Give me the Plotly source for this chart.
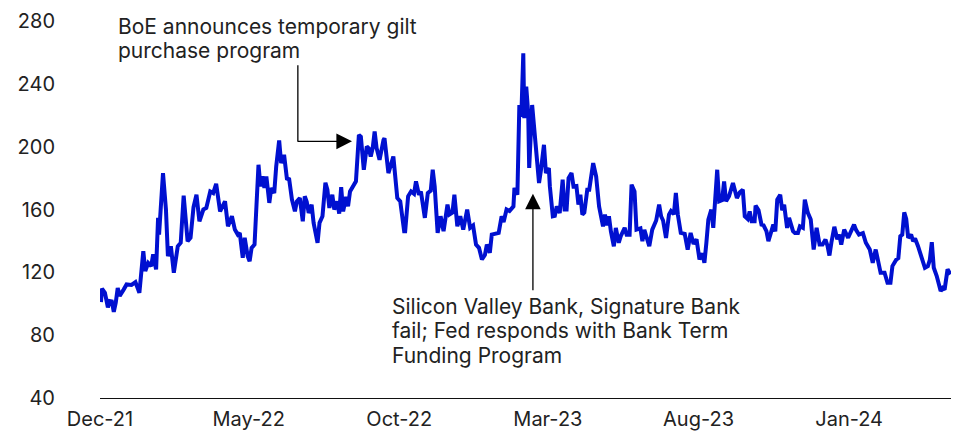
import plotly.graph_objects as go

dates = [
"2021-12-02","2021-12-03","2021-12-06","2021-12-09","2021-12-11","2021-12-13","2021-12-15","2021-12-17","2021-12-19","2021-12-21",
"2021-12-25","2021-12-28","2022-01-02","2022-01-06","2022-01-10","2022-01-14","2022-01-16","2022-01-19","2022-01-22","2022-01-24",
"2022-01-27","2022-01-29","2022-01-30","2022-02-03","2022-02-06","2022-02-08","2022-02-11","2022-02-14","2022-02-18","2022-02-21",
"2022-02-24","2022-02-28","2022-03-03","2022-03-06","2022-03-09","2022-03-12","2022-03-16","2022-03-19","2022-03-23","2022-03-26",
"2022-03-29","2022-04-02","2022-04-07","2022-04-10","2022-04-14","2022-04-17","2022-04-20","2022-04-22","2022-04-25","2022-04-27",
"2022-04-30","2022-05-02","2022-05-04","2022-05-07","2022-05-11","2022-05-13","2022-05-15","2022-05-17","2022-05-19","2022-05-22",
"2022-05-24","2022-05-27","2022-05-29","2022-06-01","2022-06-03","2022-06-06","2022-06-09","2022-06-11","2022-06-14","2022-06-17",
"2022-06-19","2022-06-22","2022-06-25","2022-06-27","2022-06-29","2022-07-01","2022-07-04","2022-07-06","2022-07-10","2022-07-12",
"2022-07-15","2022-07-18","2022-07-20","2022-07-22","2022-07-25","2022-07-27","2022-07-30","2022-08-01","2022-08-03","2022-08-05",
"2022-08-08","2022-08-10","2022-08-12","2022-08-15","2022-08-18","2022-08-21","2022-08-23","2022-08-26","2022-08-29","2022-08-31",
"2022-09-02","2022-09-04","2022-09-06","2022-09-08","2022-09-11","2022-09-15","2022-09-16","2022-09-20","2022-09-25","2022-09-29",
"2022-10-02","2022-10-06","2022-10-07","2022-10-10","2022-10-13","2022-10-16","2022-10-18","2022-10-21","2022-10-23","2022-10-27",
"2022-10-30","2022-11-02","2022-11-04","2022-11-06","2022-11-09","2022-11-12","2022-11-15","2022-11-19","2022-11-21","2022-11-24",
"2022-11-26","2022-11-29","2022-12-02","2022-12-05","2022-12-09","2022-12-12","2022-12-15","2022-12-18","2022-12-21","2022-12-24",
"2022-12-27","2022-12-29","2023-01-01","2023-01-03","2023-01-07","2023-01-10","2023-01-13","2023-01-15","2023-01-18","2023-01-21",
"2023-01-25","2023-01-26","2023-01-29","2023-01-31","2023-02-02","2023-02-04","2023-02-05","2023-02-07","2023-02-09","2023-02-10",
"2023-02-13","2023-02-15","2023-02-17","2023-02-20","2023-02-22","2023-02-25","2023-02-27","2023-03-02","2023-03-03","2023-03-06",
"2023-03-08","2023-03-10","2023-03-13","2023-03-16","2023-03-18","2023-03-20","2023-03-22","2023-03-25","2023-03-27","2023-03-30",
"2023-04-01","2023-04-03","2023-04-05","2023-04-07","2023-04-10","2023-04-12","2023-04-16","2023-04-19","2023-04-22","2023-04-24",
"2023-04-26","2023-04-28","2023-04-30","2023-05-02","2023-05-04","2023-05-07","2023-05-09","2023-05-12","2023-05-14","2023-05-18",
"2023-05-20","2023-05-23","2023-05-25","2023-05-28","2023-05-30","2023-06-03","2023-06-05","2023-06-07","2023-06-10","2023-06-12",
"2023-06-15","2023-06-17","2023-06-19","2023-06-22","2023-06-24","2023-06-26","2023-06-29","2023-07-02","2023-07-04","2023-07-07",
"2023-07-09","2023-07-11","2023-07-14","2023-07-18","2023-07-21","2023-07-24","2023-07-27","2023-07-30","2023-08-02","2023-08-05",
"2023-08-07","2023-08-09","2023-08-11","2023-08-14","2023-08-16","2023-08-20","2023-08-22","2023-08-25","2023-08-27","2023-08-29",
"2023-09-01","2023-09-05","2023-09-09","2023-09-12","2023-09-15","2023-09-17","2023-09-20","2023-09-22","2023-09-24","2023-09-27",
"2023-09-28","2023-10-01","2023-10-04","2023-10-06","2023-10-09","2023-10-11","2023-10-14","2023-10-16","2023-10-18","2023-10-20",
"2023-10-23","2023-10-25","2023-10-27","2023-10-30","2023-11-01","2023-11-05","2023-11-07","2023-11-10","2023-11-12","2023-11-15",
"2023-11-17","2023-11-20","2023-11-23","2023-11-26","2023-11-29","2023-12-02","2023-12-05","2023-12-08","2023-12-10","2023-12-12",
"2023-12-14","2023-12-17","2023-12-20","2023-12-22","2023-12-24","2023-12-27","2023-12-31","2024-01-03","2024-01-06","2024-01-08",
"2024-01-11","2024-01-15","2024-01-18","2024-01-22","2024-01-25","2024-01-28","2024-01-31","2024-02-02","2024-02-06","2024-02-09",
"2024-02-12","2024-02-14","2024-02-18","2024-02-20","2024-02-22","2024-02-24","2024-02-26","2024-02-28","2024-03-01","2024-03-04",
"2024-03-06","2024-03-08","2024-03-11","2024-03-13","2024-03-16","2024-03-18","2024-03-21","2024-03-23","2024-03-25","2024-03-27",
"2024-03-30","2024-04-01","2024-04-03","2024-04-05","2024-04-07","2024-04-10","2024-04-13",
]

values = [
101,109.6,107,97.7,101.7,101.5,94.8,100.7,110,105,
109,112.3,112,113.8,107,133.5,120.8,126,124,131.4,
121.9,154.7,144,183.2,160,130.3,136.6,119.7,136.6,138.8,
168.8,139.8,142,161.6,169.4,152.5,160,161,171.5,170.5,
176.4,158.8,165.2,149.3,155.7,147.2,144,145,129.3,142,
130.3,127.1,135.6,137.7,188.5,174.7,181.1,173.7,181.1,164.2,
173.7,170.5,187.4,203.9,189.5,194.8,179,180,166.3,158.8,
165.2,167.3,152.5,168.4,165,157.8,163.1,151.5,138.8,151.5,
155.7,177,172.6,161,169.4,160,165.2,157.4,174.3,158.8,
168,162,171.5,174.7,177.9,207.5,206.4,185.3,200.1,199,
193.7,199,209.6,199,191.6,204.3,205.4,183.2,193.7,167.3,
165.2,146.2,146.2,168.4,171.5,170,177.9,169.4,171.5,154.7,
170.5,172,185.3,174.7,145.1,155.7,146.2,163.1,156.8,158,
169.4,149.3,155.7,147.2,159.9,148.3,149.8,137.7,135.6,128.2,
131,137.7,132.4,144,144.7,145.1,155.7,152,160,159,
162,173.7,169.4,226.5,219.1,259.4,218.1,238.2,221.3,186.4,
226.5,210.7,198,176.9,185.3,201.2,183.2,186.4,174.7,155.7,
156,162,157.8,179,160,160,180,183.2,174.7,175,
163.1,169.4,156.8,158,172.6,172.6,189.5,181.1,162,155,
149.3,156.8,150,155.7,146,136.6,148.3,138.8,143,148.3,
144,144,175.8,171.5,147.2,148,139.8,147,140.9,136.6,
147.2,150.4,153,163.1,155.7,153,141.9,156.8,159,157,
170.5,156.8,145.1,144.5,134.5,145.1,138,141,128.2,132,
126.1,138.8,153.6,159.9,148.3,185.3,165.2,166,177.9,165.2,
168.4,176.9,167.3,171,172.6,155.7,154,158.8,152.5,152.5,
162.5,159.5,150.4,150,146.2,139.8,146,150.4,146,166.3,
169.4,159.5,163,148.3,154.7,146.2,145,145,149.3,148.3,
166.3,158,153.6,134.5,148.3,137.7,137.7,140.9,137,130.7,
139,149,141,144,137.7,147.2,142,147,150.4,147,
144,145,138.8,134.5,126.1,134.5,126,119.7,119.7,113.4,
113.4,124,128.2,129,143,144,158.2,154,142,144,
139.8,141.5,136.6,132.4,128.2,122.9,124,128,139.2,122.9,
117.6,113.4,108.1,110,109,121.9,118.7,
]

tick_vals = ["2021-12-01", "2022-05-01", "2022-10-01", "2023-03-01", "2023-08-01", "2024-01-01"]
tick_text = ["Dec-21", "May-22", "Oct-22", "Mar-23", "Aug-23", "Jan-24"]
y_ticks = [40, 80, 120, 160, 200, 240, 280]

boe_lines = ["BoE announces temporary gilt", "purchase program"]
svb_lines = ["Silicon Valley Bank, Signature Bank", "fail; Fed responds with Bank Term", "Funding Program"]

FONT = "Inter"
TXT = "#222222"
FS = 20
AFS = 21

fig = go.Figure()
fig.add_trace(go.Scatter(
    x=dates, y=values, mode="lines",
    line=dict(color="#0010D0", width=4),
    showlegend=False, hoverinfo="skip",
))

# page body has an 8px default margin, so the figure is 8px smaller than the window
fig.update_layout(
    width=953, height=424,
    margin=dict(l=92, r=10, t=13, b=34, autoexpand=False),
    paper_bgcolor="white", plot_bgcolor="white",
    font=dict(family=FONT, size=FS, color=TXT),
    xaxis=dict(
        type="date", automargin=False,
        range=["2021-12-01", "2024-04-13 12:00"],
        tickvals=tick_vals, ticktext=tick_text,
        showgrid=False, zeroline=False,
        showline=True, linecolor="#111111", linewidth=1.3,
        ticks="", ticklabelstandoff=3,
        tickfont=dict(family=FONT, size=FS, color=TXT),
    ),
    yaxis=dict(
        range=[40, 280], automargin=False,
        tickvals=y_ticks,
        showgrid=False, zeroline=False, showline=False,
        ticks="", ticklabelstandoff=44,
        tickfont=dict(family=FONT, size=FS, color=TXT),
    ),
)

# BoE annotation: elbow arrow
fig.add_shape(type="line", xref="x", yref="y",
              x0="2022-06-20", x1="2022-06-20", y0=203.4, y1=251.9,
              line=dict(color="black", width=1.3))
fig.add_annotation(x="2022-08-14", y=203.4, xref="x", yref="y",
                   ax=-56, ay=0, text="", showarrow=True,
                   arrowhead=2, arrowsize=2.4, arrowwidth=1.3, arrowcolor="black")
for line, yp in zip(boe_lines, [0.9854, 0.9218]):
    fig.add_annotation(x=0.019, y=yp, xref="paper", yref="paper",
                       xanchor="left", yanchor="middle", align="left",
                       text=line, showarrow=False,
                       font=dict(family=FONT, size=AFS, color=TXT))

# SVB annotation: vertical arrow
fig.add_annotation(x="2023-02-13 19:00", y=170.1, xref="x", yref="y",
                   ax=0, ay=98, text="", showarrow=True,
                   arrowhead=2, arrowsize=2.4, arrowwidth=1.3, arrowcolor="black")
for line, yp in zip(svb_lines, [0.244, 0.178, 0.114]):
    fig.add_annotation(x=0.341, y=yp, xref="paper", yref="paper",
                       xanchor="left", yanchor="middle", align="left",
                       text=line, showarrow=False,
                       font=dict(family=FONT, size=AFS, color=TXT))

fig.write_html("out.html")
